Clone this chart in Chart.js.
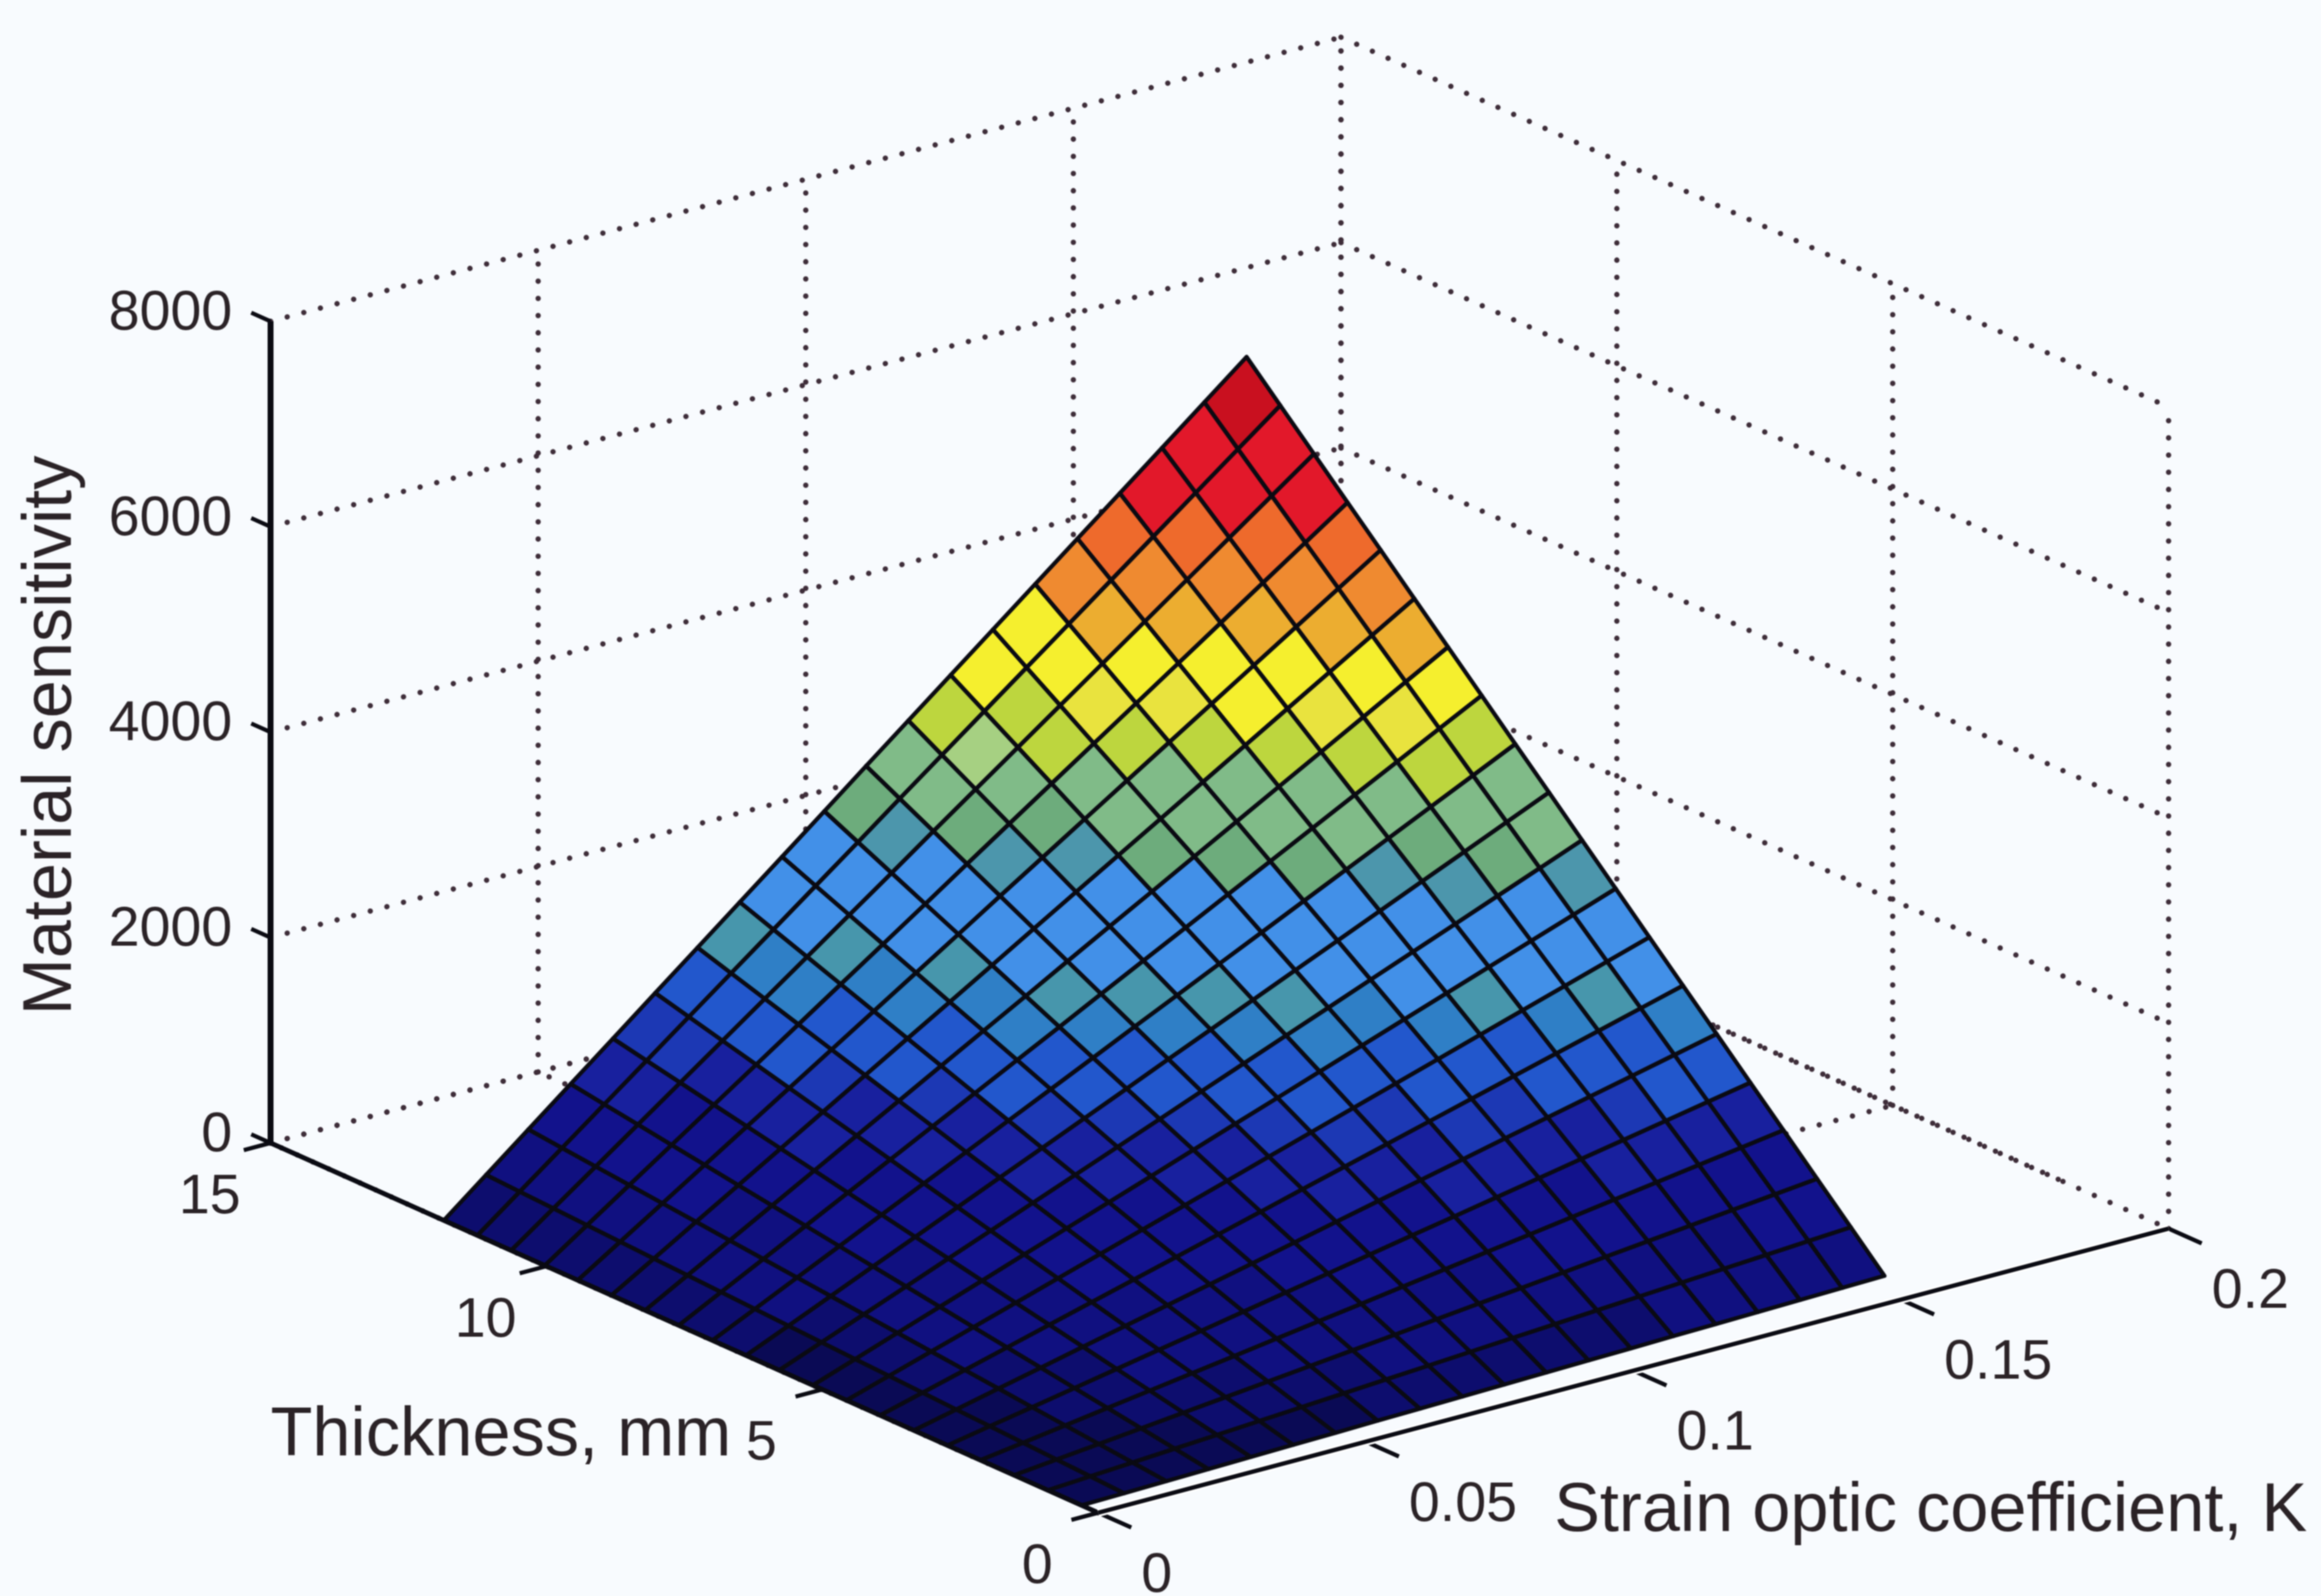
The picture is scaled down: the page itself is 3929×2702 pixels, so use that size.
<!DOCTYPE html>
<html>
<head>
<meta charset="utf-8">
<title>Material sensitivity surface</title>
<script src="https://cdn.jsdelivr.net/npm/chart.js@4/dist/chart.umd.min.js"></script>
<style>
  html, body { margin: 0; padding: 0; background: #f8fbfe; }
  canvas { display: block; filter: blur(1.3px); }
</style>
</head>
<body>
<canvas id="chart-surface" width="3929" height="2702"></canvas>
<script>
// axis ticks
const kTicks = [0, 0.05, 0.1, 0.15, 0.2];
const kTickLabels = ["0", "0.05", "0.1", "0.15", "0.2"];
const thicknessTicks = [0, 5, 10, 15];
const thicknessTickLabels = ["0", "5", "10", "15"];
const sensitivityTicks = [0, 2000, 4000, 6000, 8000];
const sensitivityTickLabels = ["0", "2000", "4000", "6000", "8000"];

// surface mesh
const kValues = [0, 0.0079, 0.0158, 0.0237, 0.0316, 0.0395, 0.0474, 0.0553, 0.0632, 0.0711, 0.0789, 0.0868, 0.0947, 0.1026, 0.1105, 0.1184, 0.1263, 0.1342, 0.1421, 0.15];
const thicknessValues = [0.3, 0.91, 1.52, 2.13, 2.73, 3.34, 3.95, 4.56, 5.17, 5.78, 6.38, 6.99, 7.6, 8.21, 8.82, 9.43, 10.03, 10.64, 11.25, 11.86];
// one row per thickness, one column per K
const sensitivity = [
  [0, 8, 17, 25, 34, 42, 50, 59, 67, 76, 84, 92, 101, 109, 118, 126, 134, 143, 151, 160],
  [0, 26, 51, 77, 102, 128, 154, 179, 205, 230, 256, 282, 307, 333, 358, 384, 410, 435, 461, 486],
  [0, 43, 85, 128, 171, 214, 256, 299, 342, 384, 427, 470, 512, 555, 598, 641, 683, 726, 769, 811],
  [0, 60, 120, 180, 240, 300, 359, 419, 479, 539, 599, 659, 719, 779, 839, 899, 958, 1018, 1078, 1138],
  [0, 77, 153, 230, 307, 384, 460, 537, 614, 690, 767, 844, 920, 997, 1074, 1151, 1227, 1304, 1381, 1457],
  [0, 94, 188, 282, 376, 470, 563, 657, 751, 845, 939, 1033, 1127, 1221, 1315, 1409, 1502, 1596, 1690, 1784],
  [0, 111, 222, 333, 444, 555, 666, 777, 888, 999, 1110, 1221, 1332, 1443, 1554, 1665, 1776, 1887, 1998, 2109],
  [0, 128, 256, 384, 512, 641, 769, 897, 1025, 1153, 1281, 1409, 1537, 1665, 1793, 1922, 2050, 2178, 2306, 2434],
  [0, 145, 291, 436, 581, 727, 872, 1017, 1162, 1308, 1453, 1598, 1744, 1889, 2034, 2180, 2325, 2470, 2615, 2761],
  [0, 162, 325, 487, 650, 812, 974, 1137, 1299, 1462, 1624, 1786, 1949, 2111, 2274, 2436, 2598, 2761, 2923, 3086],
  [0, 179, 359, 538, 717, 897, 1076, 1255, 1434, 1614, 1793, 1972, 2152, 2331, 2510, 2690, 2869, 3048, 3227, 3407],
  [0, 196, 393, 589, 786, 982, 1178, 1375, 1571, 1768, 1964, 2160, 2357, 2553, 2750, 2946, 3142, 3339, 3535, 3732],
  [0, 214, 427, 641, 854, 1068, 1282, 1495, 1709, 1922, 2136, 2350, 2563, 2777, 2990, 3204, 3418, 3631, 3845, 4058],
  [0, 231, 461, 692, 923, 1154, 1384, 1615, 1846, 2076, 2307, 2538, 2768, 2999, 3230, 3461, 3691, 3922, 4153, 4383],
  [0, 248, 496, 743, 991, 1239, 1487, 1735, 1982, 2230, 2478, 2726, 2974, 3221, 3469, 3717, 3965, 4213, 4460, 4708],
  [0, 265, 530, 795, 1060, 1325, 1590, 1855, 2120, 2385, 2650, 2915, 3180, 3445, 3710, 3975, 4240, 4505, 4770, 5035],
  [0, 282, 564, 845, 1127, 1409, 1691, 1973, 2254, 2536, 2818, 3100, 3382, 3663, 3945, 4227, 4509, 4791, 5072, 5354],
  [0, 299, 598, 897, 1196, 1495, 1794, 2093, 2392, 2691, 2990, 3289, 3588, 3887, 4186, 4485, 4784, 5083, 5382, 5681],
  [0, 316, 632, 948, 1264, 1581, 1897, 2213, 2529, 2845, 3161, 3477, 3793, 4109, 4425, 4742, 5058, 5374, 5690, 6006],
  [0, 333, 667, 1000, 1333, 1667, 2000, 2333, 2666, 3000, 3333, 3666, 4000, 4333, 4666, 5000, 5333, 5666, 6000, 6333],
];

// colour bands of the scanned colormap, lower bound of each band
const bandFloors = [6140, 5510, 5190, 4880, 4700, 4240, 4150, 3830, 3740, 3390, 3200, 3040, 2394, 2280, 2058, 1680, 1520, 1200, 760, 380, 190, 0];
const bandColors = ["#c9101f", "#e2182a", "#ee6a2c", "#ef8a30", "#ecad30", "#f5ef2e", "#e9e33e", "#bdd63e", "#a6d082", "#80bb88", "#6dac7c", "#4c96ac", "#4290e8", "#4796ac", "#2f7fc6", "#2257cc", "#1c38b4", "#18209e", "#12128c", "#101080", "#0d0d6e", "#0a0a55"];

// view: box corner at K=0, T=0, z=0 and how far each axis runs on the page
const origin = { x: 1859, y: 2561 };
const kRun = { x: 1812, y: -481, span: 0.2 };
const thicknessRun = { x: -1401, y: -626, span: 15 };
const zRun = { y: -1391, span: 8000 };

function project(k, t, z) {
  return {
    x: origin.x + (k / kRun.span) * kRun.x + (t / thicknessRun.span) * thicknessRun.x,
    y: origin.y + (k / kRun.span) * kRun.y + (t / thicknessRun.span) * thicknessRun.y + (z / zRun.span) * zRun.y,
  };
}

function bandColor(z) {
  const i = bandFloors.findIndex((f) => z >= f);
  return bandColors[i < 0 ? bandColors.length - 1 : i];
}

const ink = "#0a0a12";
const dotted = { borderColor: "#3d2c38", borderWidth: 9, borderDash: [0.1, 29], borderCapStyle: "round" };
const datasets = [];

function addLine(points, style) {
  datasets.push({ data: points, showLine: true, pointRadius: 0, fill: false, clip: false, ...style });
}

// front axes go first so they end up on top
const kMax = kTicks[kTicks.length - 1];
const tMax = thicknessTicks[thicknessTicks.length - 1];
const zMax = sensitivityTicks[sensitivityTicks.length - 1];
const solid = { borderColor: ink, borderWidth: 7 };

addLine([project(0, 0, 0), project(kMax, 0, 0)], solid);
addLine([project(0, 0, 0), project(kMax, 0, 0)], { borderColor: "#ffffff", borderWidth: 14 });
kTicks.forEach((k) => addLine([project(k, 0, 0), project(k, -0.6, 0)], solid));
addLine([project(0, 0, 0), project(0, tMax, 0)], { borderColor: ink, borderWidth: 8 });
thicknessTicks.forEach((t) => addLine([project(0, t, 0), project(-0.005, t, 0)], solid));
addLine([project(0, tMax, 0), project(0, tMax, zMax)], { borderColor: ink, borderWidth: 10 });
sensitivityTicks.forEach((z) => addLine([project(0, tMax, z), project(0, tMax + 0.35, z)], solid));

// surface cells, nearest first
for (let v = 0; v < thicknessValues.length - 1; v++) {
  for (let u = 0; u < kValues.length - 1; u++) {
    const corners = [[u, v], [u + 1, v], [u + 1, v + 1], [u, v + 1], [u, v]];
    addLine(
      corners.map(([a, b]) => project(kValues[a], thicknessValues[b], sensitivity[b][a])),
      {
        fill: "shape",
        backgroundColor: bandColor(sensitivity[v + 1][u + 1]),
        borderColor: ink,
        borderWidth: 7,
        borderJoinStyle: "round",
      }
    );
  }
}

// dotted box grid behind the surface, floor lines start under the surface
kTicks.forEach((k) => {
  addLine([project(k, tMax, 0), project(k, tMax, zMax)], dotted);
  addLine([project(k, 2, 0), project(k, tMax, 0)], dotted);
});
thicknessTicks.forEach((t) => {
  addLine([project(kMax, t, 0), project(kMax, t, zMax)], dotted);
  addLine([project(0, t, 0), project(kMax, t, 0)], dotted);
});
sensitivityTicks.forEach((z) => {
  addLine([project(0, tMax, z), project(kMax, tMax, z)], dotted);
  addLine([project(kMax, tMax, z), project(kMax, 0, z)], dotted);
});

const textPlugin = {
  id: "boxText",
  afterDraw(chart) {
    const { ctx, scales } = chart;
    const px = (p) => ({ x: scales.x.getPixelForValue(p.x), y: scales.y.getPixelForValue(p.y) });
    ctx.save();
    ctx.fillStyle = "#2a2226";
    ctx.textBaseline = "middle";

    ctx.font = "94px 'Liberation Sans'";
    ctx.textAlign = "right";
    sensitivityTicks.forEach((z, i) => {
      const p = px(project(0, tMax, z));
      ctx.fillText(sensitivityTickLabels[i], 393, p.y - 12);
    });
    ctx.textAlign = "center";
    thicknessTicks.forEach((t, i) => {
      const p = px(project(0, t, 0));
      ctx.fillText(thicknessTickLabels[i], p.x - 103, p.y + 93);
    });
    ctx.textAlign = "left";
    kTicks.forEach((k, i) => {
      const p = px(project(k, 0, 0));
      ctx.fillText(kTickLabels[i], p.x + 73, p.y + 108);
    });

    ctx.font = "116px 'Liberation Sans'";
    ctx.fillText("Thickness, mm", 458, 2432);
    ctx.fillText("Strain optic coefficient, K", 2631, 2560);
    ctx.translate(88, 1245);
    ctx.rotate(-Math.PI / 2);
    ctx.textAlign = "center";
    ctx.fillText("Material sensitivity", 0, 0);
    ctx.restore();
  },
};

new Chart(document.getElementById("chart-surface"), {
  type: "scatter",
  data: { datasets },
  options: {
    responsive: false,
    animation: false,
    events: [],
    layout: { padding: 0 },
    plugins: { legend: { display: false }, tooltip: { enabled: false } },
    scales: {
      x: { type: "linear", min: 0, max: 3929, display: false },
      y: { type: "linear", min: 0, max: 2702, reverse: true, display: false },
    },
  },
  plugins: [textPlugin],
});
</script>
</body>
</html>
